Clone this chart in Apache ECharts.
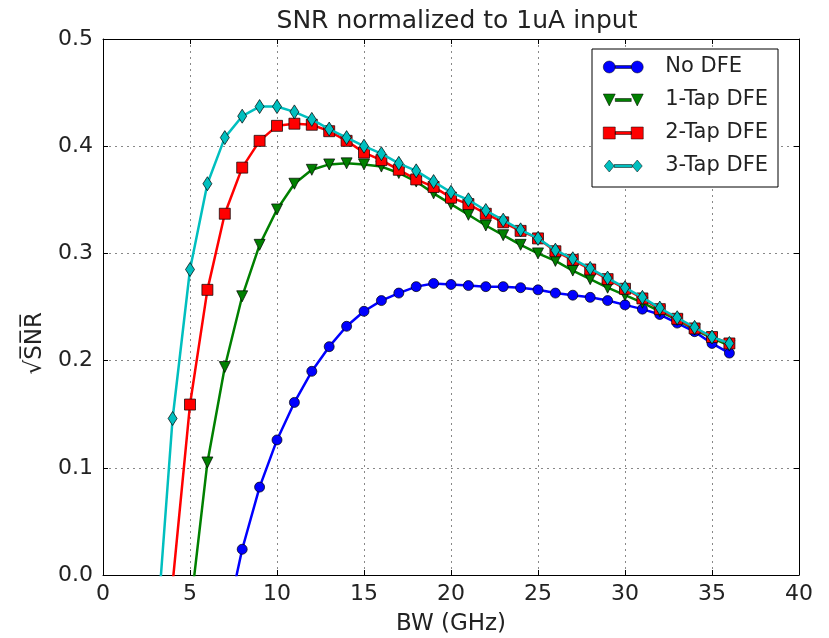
<!DOCTYPE html>
<html>
<head>
<meta charset="utf-8">
<script src="https://cdn.jsdelivr.net/npm/echarts@6/dist/echarts.min.js"></script>
<style>
html,body{margin:0;padding:0;background:#fff;}
#chart{width:829px;height:638px;}
</style>
</head>
<body>
<div id="chart"></div>
<script>
// Bandwidth (GHz) sample points
var bw = [3,4,5,6,7,8,9,10,11,12,13,14,15,16,17,18,19,20,21,22,23,24,25,26,27,28,29,30,31,32,33,34,35,36];
var xTicks = [0,5,10,15,20,25,30,35,40];
var yTicks = [0.0,0.1,0.2,0.3,0.4,0.5];
var seriesNames = ['No DFE','1-Tap DFE','2-Tap DFE','3-Tap DFE'];
// values aligned with bw (null = not computed)
var noDFE = [null,null,null,null,-0.051,0.024,0.082,0.126,0.161,0.190,0.213,0.232,0.246,0.256,0.263,0.269,0.272,0.271,0.270,0.269,0.269,0.268,0.266,0.263,0.261,0.259,0.256,0.252,0.248,0.243,0.235,0.227,0.216,0.207];
var tap1 = [null,null,-0.035,0.105,0.194,0.260,0.308,0.341,0.365,0.378,0.383,0.384,0.383,0.381,0.375,0.367,0.356,0.346,0.336,0.326,0.317,0.308,0.300,0.293,0.284,0.276,0.268,0.261,0.254,0.246,0.238,0.229,0.221,0.214];
var tap2 = [null,-0.008,0.159,0.266,0.337,0.380,0.405,0.419,0.421,0.420,0.414,0.405,0.394,0.387,0.378,0.369,0.362,0.352,0.346,0.337,0.329,0.321,0.314,0.302,0.294,0.285,0.276,0.267,0.258,0.248,0.239,0.230,0.222,0.216];
var tap3 = [-0.072,0.146,0.285,0.365,0.408,0.428,0.437,0.437,0.432,0.425,0.416,0.408,0.400,0.393,0.384,0.377,0.367,0.357,0.350,0.340,0.331,0.322,0.314,0.303,0.295,0.286,0.277,0.268,0.259,0.249,0.240,0.231,0.222,0.216];

function pairs(vals){
  var out=[];
  for(var i=0;i<bw.length;i++){ if(vals[i]!==null) out.push([bw[i],vals[i]]); }
  return out;
}
var colors=['#0000ff','#008000','#ff0000','#00bfbf'];
var legendIcons=[
  'path://M0,6a6,6 0 1,0 12,0a6,6 0 1,0 -12,0Z M12,4.5L28,4.5L28,7.5L12,7.5Z M28,6a6,6 0 1,0 12,0a6,6 0 1,0 -12,0Z',
  'path://M0,0L12,0L6,12Z M12,4.5L28,4.5L28,7.5L12,7.5Z M28,0L40,0L34,12Z',
  'path://M0,0L12,0L12,12L0,12Z M12,4.5L28,4.5L28,7.5L12,7.5Z M28,0L40,0L40,12L28,12Z',
  'path://M6,0L11,6L6,12L1,6Z M11,4.5L29,4.5L29,7.5L11,7.5Z M34,0L39,6L34,12L29,6Z'
];
var symbols=['circle','triangle','rect','diamond'];
var symSizes=[10,11,11,[9,14]];
var symRot=[0,180,0,0];
var allVals=[noDFE,tap1,tap2,tap3];

var chart=echarts.init(document.getElementById('chart'),null,{renderer:'canvas'});
var fontFam='"DejaVu Sans", sans-serif';
var series=seriesNames.map(function(n,i){
  return {
    name:n, type:'line', data:pairs(allVals[i]),
    symbol:symbols[i], symbolSize:symSizes[i], symbolRotate:symRot[i],
    showAllSymbol:true, clip:true,
    lineStyle:{color:colors[i],width:2.5},
    itemStyle:{color:colors[i],borderColor:'#000',borderWidth:0.7},
    emphasis:{disabled:true}, animation:false, z:2+i
  };
});
chart.setOption({
  animation:false,
  backgroundColor:'#fff',
  title:{text:'SNR normalized to 1uA input',left:452,top:4,textAlign:'center',
    textStyle:{fontFamily:fontFam,fontSize:25,fontWeight:'normal',color:'#222'}},
  grid:{left:103,right:30,top:39,bottom:63,containLabel:false,outerBoundsMode:'none'},
  legend:{
    orient:'vertical',left:592,top:49,
    data:seriesNames.map(function(n,i){return {name:n,icon:legendIcons[i]};}),
    itemWidth:40,itemHeight:12,itemGap:9,
    padding:[6,10,9,11],
    backgroundColor:'#fff',borderColor:'#000',borderWidth:1,borderRadius:0,
    itemStyle:{borderWidth:0.5},
    textStyle:{fontFamily:fontFam,fontSize:21,color:'#222',lineHeight:24,padding:[0,0,0,17]},
    selectedMode:false
  },
  graphic:[{
    type:'text',left:24,top:312,rotation:Math.PI/2,
    style:{text:'\u221AS\u0305N\u0305R\u0305',font:'23px "DejaVu Sans", sans-serif',fill:'#222'}
  }],
  xAxis:[{
    type:'value',min:0,max:40,interval:5,position:'bottom',
    name:'BW (GHz)',nameLocation:'middle',nameGap:38,
    nameTextStyle:{fontFamily:fontFam,fontSize:23,color:'#222'},
    axisLine:{show:true,onZero:false,lineStyle:{color:'#000',width:1}},
    axisTick:{show:true,inside:true,length:5,lineStyle:{color:'#000'}},
    axisLabel:{fontFamily:fontFam,fontSize:22,color:'#222',margin:8,
      formatter:function(v){return xTicks.indexOf(v)>=0?String(v):'';}},
    splitLine:{show:true,lineStyle:{color:'#888',type:[2,4],width:1}}
  },{
    type:'value',min:0,max:40,interval:5,position:'top',
    axisLine:{show:true,onZero:false,lineStyle:{color:'#000',width:1}},
    axisTick:{show:true,inside:true,length:5,lineStyle:{color:'#000'}},
    axisLabel:{show:false},splitLine:{show:false}
  }],
  yAxis:[{
    type:'value',min:0,max:0.5,interval:0.1,position:'left',
    axisLine:{show:true,onZero:false,lineStyle:{color:'#000',width:1}},
    axisTick:{show:true,inside:true,length:5,lineStyle:{color:'#000'}},
    axisLabel:{fontFamily:fontFam,fontSize:22,color:'#222',margin:10,
      formatter:function(v){return v.toFixed(1);}},
    splitLine:{show:true,lineStyle:{color:'#888',type:[2,4],width:1}}
  },{
    type:'value',min:0,max:0.5,interval:0.1,position:'right',
    axisLine:{show:true,onZero:false,lineStyle:{color:'#000',width:1}},
    axisTick:{show:true,inside:true,length:5,lineStyle:{color:'#000'}},
    axisLabel:{show:false},splitLine:{show:false}
  }],
  series:series
});
</script>
</body>
</html>
